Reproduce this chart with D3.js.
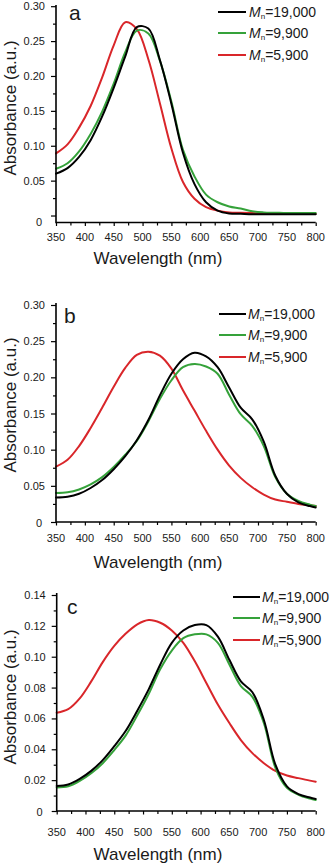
<!DOCTYPE html>
<html>
<head>
<meta charset="utf-8">
<script src="https://cdn.jsdelivr.net/npm/d3@7"></script>
<style>
  html, body { margin: 0; padding: 0; background: #fff; }
  svg { display: block; }
  text { font-family: "Liberation Sans", Arial, Helvetica, sans-serif; fill: #1a1a1a; }
</style>
</head>
<body>
<svg id="chart" width="332" height="866"></svg>
<script>
// ---------------- DATA ----------------
const wavelengths = [350,370,390,410,430,450,470,490,510,530,550,570,590,610,630,650,670,690,710,730,750,770,790,800];
const seriesNames = ["19,000", "9,900", "5,900"];
const xTicks = [350,400,450,500,550,600,650,700,750,800];

// panel a
const aBlack = [0.060,0.068,0.084,0.108,0.142,0.183,0.228,0.270,0.268,0.223,0.160,0.090,0.045,0.019,0.007,0.003,0.0025,0.002,0.002,0.002,0.002,0.002,0.002,0.002];
const aGreen = [0.067,0.075,0.092,0.117,0.149,0.189,0.234,0.265,0.261,0.222,0.163,0.094,0.056,0.030,0.019,0.013,0.010,0.006,0.0045,0.004,0.0035,0.0035,0.0035,0.0035];
const aRed   = [0.089,0.102,0.126,0.157,0.198,0.244,0.277,0.267,0.224,0.161,0.096,0.048,0.024,0.012,0.007,0.0045,0.004,0.0035,0.003,0.003,0.0025,0.0025,0.0025,0.0025];
const aYTicks = [0,0.05,0.10,0.15,0.20,0.25,0.30];

// panel b
const bBlack = [0.034,0.035,0.039,0.047,0.058,0.073,0.091,0.113,0.141,0.175,0.205,0.225,0.234,0.229,0.214,0.186,0.158,0.142,0.111,0.064,0.039,0.027,0.022,0.020];
const bGreen = [0.040,0.041,0.045,0.052,0.062,0.076,0.093,0.112,0.139,0.170,0.196,0.214,0.2185,0.215,0.205,0.176,0.149,0.133,0.105,0.062,0.039,0.029,0.024,0.022];
const bRed   = [0.0765,0.086,0.105,0.130,0.158,0.187,0.213,0.231,0.2355,0.230,0.212,0.182,0.154,0.126,0.100,0.078,0.061,0.048,0.038,0.031,0.028,0.025,0.023,0.022];
const bYTicks = [0,0.05,0.10,0.15,0.20,0.25,0.30];

// panel c
const cBlack = [0.0162,0.0172,0.0208,0.026,0.033,0.042,0.052,0.065,0.079,0.095,0.109,0.117,0.1205,0.1205,0.113,0.098,0.084,0.077,0.059,0.030,0.016,0.011,0.0087,0.0078];
const cGreen = [0.0153,0.016,0.0195,0.0245,0.031,0.0395,0.049,0.062,0.076,0.092,0.104,0.112,0.1145,0.1145,0.109,0.095,0.081,0.074,0.057,0.028,0.015,0.0105,0.008,0.0071];
const cRed   = [0.0637,0.066,0.073,0.084,0.0965,0.107,0.115,0.121,0.1238,0.122,0.117,0.109,0.097,0.083,0.069,0.057,0.046,0.0375,0.031,0.026,0.023,0.0213,0.0197,0.019];
const cYTicks = [0,0.02,0.04,0.06,0.08,0.10,0.12,0.14];

// ---------------- STYLE / LAYOUT ----------------
const colors = ["#000000", "#35a23a", "#d9262a"];

const panels = [
  { letter: "a", series: [aBlack, aGreen, aRed], yTicks: aYTicks, yDomain: [-0.01, 0.30], fmt: d3.format(".2f"),
    yRange: [222.5, 6.2], top: 5, xRange: [56, 315.7], letterPos: [69, 20], legend: { x1: 218, x2: 246, tx: 249, rows: [12, 33, 55] },
    xLabelY: 241, xTitleY: 264, yTitleY: 108, zeroShift: 6, zeroDx: -3 },
  { letter: "b", series: [bBlack, bGreen, bRed], yTicks: bYTicks, yDomain: [0, 0.30], fmt: d3.format(".2f"),
    yRange: [522, 305], top: 303, xRange: [56, 315.7], letterPos: [64, 323], legend: { x1: 219, x2: 246, tx: 248, rows: [314, 335, 357] },
    xLabelY: 542, xTitleY: 568, yTitleY: 405, zeroShift: 1, zeroDx: -3 },
  { letter: "c", series: [cBlack, cGreen, cRed], yTicks: cYTicks, yDomain: [0, 0.14], fmt: d3.format(".2f"),
    yRange: [811, 595], top: 593, xRange: [56.7, 315.7], letterPos: [67, 614], legend: { x1: 233, x2: 260, tx: 262, rows: [597, 618, 640] },
    xLabelY: 836, xTitleY: 860, yTitleY: 697, zeroShift: 1, zeroDx: -3 }
];

const svg = d3.select("#chart");

panels.forEach(p => {
  const g = svg.append("g");
  const x = d3.scaleLinear().domain([350, 800]).range(p.xRange);
  const y = d3.scaleLinear().domain(p.yDomain).range(p.yRange);
  const x0 = p.xRange[0], x1 = p.xRange[1];
  const yBottom = p.yRange[0];

  const line = d3.line()
    .x((d, i) => x(wavelengths[i]))
    .y(d => y(d))
    .curve(d3.curveCatmullRom.alpha(0.5));

  [2, 1, 0].forEach(si => {
    g.append("path")
      .attr("d", line(p.series[si]))
      .attr("fill", "none")
      .attr("stroke", colors[si])
      .attr("stroke-width", 2)
      .attr("stroke-linejoin", "round")
      .attr("stroke-linecap", "round");
  });

  // y axis: minor ticks
  const step = p.yTicks[1] - p.yTicks[0];
  const minor = p.yTicks.slice(0, -1).map(v => v + step / 2);
  const yMinor = g.append("g").attr("transform", `translate(${x0},0)`)
    .call(d3.axisLeft(y).tickValues(minor).tickSize(3).tickFormat(""));
  yMinor.select(".domain").remove();

  const yAxis = g.append("g").attr("transform", `translate(${x0},0)`)
    .call(d3.axisLeft(y).tickValues(p.yTicks).tickSize(5).tickPadding(6)
      .tickFormat(v => v === 0 ? "0" : p.fmt(v)));
  yAxis.select(".domain").remove();
  yAxis.selectAll("text")
    .style("font-size", "11px")
    .style("font-family", "'Liberation Sans', Arial, sans-serif")
    .attr("fill", "#1a1a1a")
    .each(function(v) {
      if (v === 0) d3.select(this).attr("dy", (0.32 + p.zeroShift / 11) + "em").attr("dx", p.zeroDx);
    });
  g.selectAll(".tick line").attr("stroke", "#000").attr("stroke-width", 1.2);

  // x axis ticks
  const xMinor = d3.range(375, 800, 50);
  const xm = g.append("g").attr("transform", `translate(0,${yBottom})`)
    .call(d3.axisBottom(x).tickValues(xMinor).tickSize(3).tickFormat(""));
  xm.select(".domain").remove();
  const xa = g.append("g").attr("transform", `translate(0,${yBottom})`)
    .call(d3.axisBottom(x).tickValues(xTicks).tickSize(3.5).tickFormat(d3.format("d")));
  xa.select(".domain").remove();
  xa.selectAll("text").remove();
  xa.selectAll(".tick line").attr("stroke", "#000").attr("stroke-width", 1.2);
  xm.selectAll(".tick line").attr("stroke", "#000").attr("stroke-width", 1.2);

  g.selectAll(".xlab").data(xTicks).enter().append("text")
    .attr("class", "xlab")
    .attr("x", d => x(d))
    .attr("y", p.xLabelY)
    .attr("text-anchor", "middle")
    .style("font-size", "11px")
    .text(d => d);

  // axis lines
  g.append("line").attr("x1", x0).attr("x2", x0).attr("y1", p.top).attr("y2", yBottom + 0.75)
    .attr("stroke", "#000").attr("stroke-width", 1.6);
  g.append("line").attr("x1", x0).attr("x2", x1).attr("y1", yBottom).attr("y2", yBottom)
    .attr("stroke", "#000").attr("stroke-width", 1.6);

  // titles
  g.append("text")
    .attr("x", 158).attr("y", p.xTitleY)
    .attr("text-anchor", "middle")
    .style("font-size", "17px")
    .text("Wavelength (nm)");
  g.append("text")
    .attr("transform", `translate(16,${p.yTitleY}) rotate(-90)`)
    .attr("text-anchor", "middle")
    .style("font-size", "17px")
    .text("Absorbance (a.u.)");

  // panel letter
  g.append("text")
    .attr("x", p.letterPos[0]).attr("y", p.letterPos[1])
    .style("font-size", "21px")
    .text(p.letter);

  // legend
  seriesNames.forEach((name, i) => {
    const ry = p.legend.rows[i];
    g.append("line")
      .attr("x1", p.legend.x1).attr("x2", p.legend.x2)
      .attr("y1", ry).attr("y2", ry)
      .attr("stroke", colors[i]).attr("stroke-width", 2);
    const t = g.append("text")
      .attr("x", p.legend.tx).attr("y", ry + 5)
      .style("font-size", "14px");
    t.append("tspan").style("font-style", "italic").text("M");
    t.append("tspan").attr("dy", 2).style("font-size", "8px").text("n");
    t.append("tspan").attr("dy", -2).text("=" + name);
  });
});
</script>
</body>
</html>
